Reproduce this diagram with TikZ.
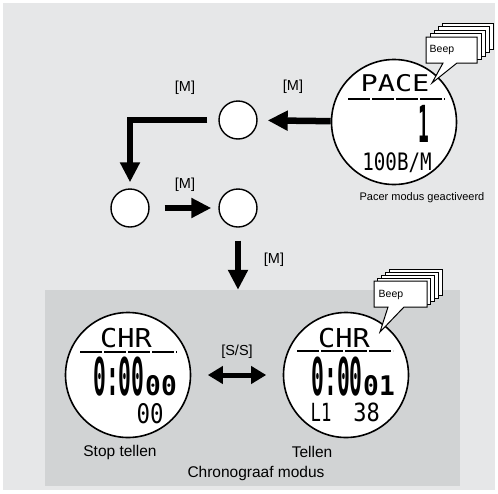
\documentclass[tikz,border=0pt]{standalone}
\usepackage{fontspec}
\setmainfont{Liberation Sans}
\newfontfamily\lcdfont{DejaVu Sans Mono}
\usetikzlibrary{arrows.meta,positioning}
\definecolor{outerbg}{HTML}{E6E7E8}
\definecolor{innerbg}{HTML}{D1D3D4}

\begin{document}
\begin{tikzpicture}[x=1pt, y=-1pt,
  stepcirc/.style={circle, draw, line width=1.4pt, fill=white, minimum size=38pt, inner sep=0pt},
  watch/.style={circle, draw, line width=1.6pt, fill=white, minimum size=125pt, inner sep=0pt},
  lcd/.style={inner sep=0pt, anchor=base, text depth=0pt},
  lcdline/.style={line width=2pt, dash pattern=on 22pt off 2pt},
  bigarr/.style={line width=6.5pt, -{Triangle[length=20pt, width=19pt]}},
  duoarr/.style={line width=5pt, {Triangle[length=15pt, width=17pt]}-{Triangle[length=15pt, width=17pt]}},
  bubble/.style={draw, fill=white, line width=1pt},
  lbl/.style={font=\fontsize{14.5}{17}\selectfont},
  captxt/.style={font=\fontsize{15.5}{18}\selectfont},
  beep/.style={font=\fontsize{10.5}{12}\selectfont}
]
  \useasboundingbox (0,0) rectangle (498,493);
  \fill[outerbg] (3,3) rectangle (495,490);
  \node[fill=innerbg, minimum width=415pt, minimum height=196pt, inner sep=0pt] (chr) at (252.5,388) {};

  % pacer watch
  \node[watch] (pace) at (394,122) {};
  \node[lcd, font=\lcdfont\fontsize{23}{23}\selectfont, xscale=1.24] (pacetxt) at (395,91) {PACE};
  \draw[lcdline] (348,99) -- (445,99);
  \node[lcd, font=\lcdfont\bfseries\fontsize{51}{51}\selectfont, xscale=.35] (pacenum) at (424,142) {1};
  \node[lcd, font=\lcdfont\fontsize{24}{24}\selectfont, xscale=.8] (bpm) at (397,170) {100B/M};
  \node[font=\fontsize{11}{13}\selectfont] (pacelbl) at (422,198) {Pacer modus geactiveerd};

  % beep stack, top
  \foreach \i in {4,...,1}
    \draw[bubble, shift={(4*\i,-3.5*\i)}] (426,37) rectangle (477,63);
  \draw[bubble] (426,37) -- (477,37) -- (477,63) -- (457,63) -- (432,83) -- (443,63) -- (426,63) -- cycle;
  \node[beep] (beepA) at (442,50) {Beep};

  % mode steps
  \node[stepcirc] (c1) at (238,120) {};
  \node[stepcirc] (c2) at (130,208) {};
  \node[stepcirc] (c3) at (238,208) {};
  \draw[bigarr, shorten >=10pt] (pace) -- (c1);
  \draw[bigarr, shorten <=11pt, shorten >=6pt] (c1) -| (c2);
  \draw[bigarr, shorten <=15pt, shorten >=7pt] (c2) -- (c3);
  \draw[bigarr, shorten <=13pt] (c3) -- (c3 |- chr.north);
  \node[lbl] (m1) at (185,88) {[M]};
  \node[lbl] (m2) at (293,87) {[M]};
  \node[lbl] (m3) at (185,185) {[M]};
  \node[lbl] (m4) at (274,260) {[M]};

  % chronograph watches
  \node[watch] (stopw) at (128,375) {};
  \node[lcd, font=\lcdfont\fontsize{26}{26}\selectfont, xscale=1.1] (chrA) at (126,347) {CHR};
  \draw[lcdline] (80,352) -- (177,352);
  \node[lcd, font=\lcdfont\bfseries\fontsize{52}{52}\selectfont, xscale=.41] (timeA) at (119,395) {0:00};
  \node[lcd, font=\lcdfont\bfseries\fontsize{27}{27}\selectfont, xscale=.97] (hunA) at (161,395) {00};
  \node[lcd, font=\lcdfont\fontsize{27}{27}\selectfont, xscale=.83, text height=19pt] (lapA) at (150,423) {00};

  \node[watch] (runw) at (346,375) {};
  \node[lcd, font=\lcdfont\fontsize{26}{26}\selectfont, xscale=1.1] (chrB) at (344,347) {CHR};
  \draw[lcdline] (297,351) -- (393,351);
  \node[lcd, font=\lcdfont\bfseries\fontsize{52}{52}\selectfont, xscale=.41] (timeB) at (337,395) {0:00};
  \node[lcd, font=\lcdfont\bfseries\fontsize{27}{27}\selectfont, xscale=.97] (hunB) at (379,395) {01};
  \node[lcd, font=\lcdfont\fontsize{25}{25}\selectfont, xscale=.69, text height=18pt] (lapB) at (321,421) {L1};
  \node[lcd, font=\lcdfont\fontsize{25}{25}\selectfont, xscale=.88, text height=18pt] (splitB) at (366.5,421) {38};

  \draw[duoarr, shorten <=16.5pt, shorten >=16.5pt] (stopw) -- (runw);
  \node[lbl] (ss) at (237,352) {[S/S]};

  % beep stack, bottom
  \foreach \i in {4,...,1}
    \draw[bubble, shift={(3.75*\i,-3*\i)}] (374,281) rectangle (427,307);
  \draw[bubble] (374,281) -- (427,281) -- (427,307) -- (404,307) -- (380,332) -- (388,307) -- (374,307) -- cycle;
  \node[beep] (beepB) at (391,295) {Beep};

  \node[captxt] (stoplbl) at (120,452) {Stop tellen};
  \node[captxt] (runlbl) at (312,452) {Tellen};
  \node[captxt] (chrlbl) at (256,473) {Chronograaf modus};
\end{tikzpicture}
\end{document}
